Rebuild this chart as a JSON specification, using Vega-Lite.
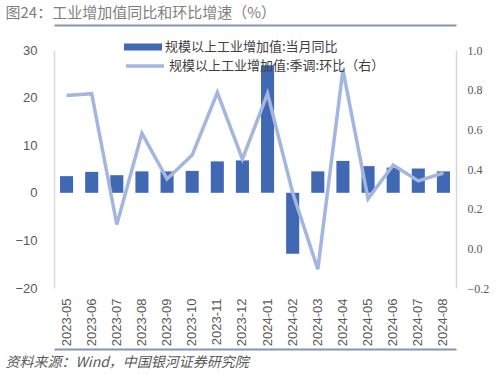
{
  "$schema": "https://vega.github.io/schema/vega-lite/v6.json",
  "width": 402,
  "height": 238,
  "autosize": {"type": "none"},
  "padding": {"left": 54, "top": 50, "right": 44, "bottom": 87},
  "background": "white",
  "config": {
    "view": {"stroke": null},
    "axis": {"grid": false, "ticks": false, "labelColor": "#595959", "domainColor": "#d9d9d9", "domainWidth": 1.5}
  },
  "data": {
    "values": [
      {"m": "2023-05", "yoy": 3.5, "mom": 0.77},
      {"m": "2023-06", "yoy": 4.4, "mom": 0.78},
      {"m": "2023-07", "yoy": 3.7, "mom": 0.12},
      {"m": "2023-08", "yoy": 4.5, "mom": 0.58},
      {"m": "2023-09", "yoy": 4.5, "mom": 0.35},
      {"m": "2023-10", "yoy": 4.6, "mom": 0.47},
      {"m": "2023-11", "yoy": 6.6, "mom": 0.785},
      {"m": "2023-12", "yoy": 6.8, "mom": 0.45},
      {"m": "2024-01", "yoy": 26.8, "mom": 0.78},
      {"m": "2024-02", "yoy": -12.8, "mom": 0.28},
      {"m": "2024-03", "yoy": 4.5, "mom": -0.105},
      {"m": "2024-04", "yoy": 6.7, "mom": 0.9},
      {"m": "2024-05", "yoy": 5.6, "mom": 0.25},
      {"m": "2024-06", "yoy": 5.3, "mom": 0.42},
      {"m": "2024-07", "yoy": 5.1, "mom": 0.34},
      {"m": "2024-08", "yoy": 4.5, "mom": 0.38}
    ]
  },
  "layer": [
    {
      "mark": {"type": "bar"},
      "encoding": {
        "x": {
          "field": "m", "type": "ordinal",
          "scale": {"paddingInner": 0.48, "paddingOuter": 0.24},
          "axis": {
            "orient": "bottom", "offset": 61, "labelAngle": -90, "labelPadding": -51,
            "labelFont": "Liberation Sans", "labelFontSize": 13,
            "domainColor": "#8496b0", "domainWidth": 2,
            "title": "资料来源：Wind，中国银河证券研究院",
            "titleX": -49, "titleY": 13, "titleAlign": "left", "titleBaseline": "middle",
            "titleFont": "Noto Sans CJK SC", "titleFontSize": 14, "titleFontStyle": "italic",
            "titleFontWeight": "normal", "titleColor": "#595959"
          }
        },
        "y": {
          "field": "yoy", "type": "quantitative",
          "scale": {"domain": [-20, 30], "nice": false, "zero": false},
          "axis": {
            "orient": "left", "values": [-20, -10, 0, 10, 20, 30], "title": null,
            "labelPadding": 17, "labelFont": "Liberation Sans", "labelFontSize": 13
          }
        },
        "color": {
          "datum": "规模以上工业增加值:当月同比",
          "scale": {"range": ["#4068b3"]},
          "legend": {
            "orient": "none", "legendX": 70, "legendY": -22, "title": null, "padding": 0,
            "symbolType": "M-1,-0.18L1,-0.18L1,0.18L-1,0.18Z", "symbolSize": 1444,
            "symbolStrokeWidth": 0, "labelOffset": 3, "labelLimit": 400,
            "labelFont": "Noto Sans CJK SC", "labelFontSize": 13, "labelColor": "#404040"
          }
        }
      }
    },
    {
      "mark": {"type": "line", "strokeWidth": 3.5},
      "encoding": {
        "x": {
          "field": "m", "type": "ordinal",
          "axis": {
            "orient": "top", "offset": 25, "labels": false,
            "domainColor": "#8496b0", "domainWidth": 2,
            "title": "图24：工业增加值同比和环比增速（%）",
            "titleX": -49, "titleY": -13, "titleAlign": "left", "titleBaseline": "middle",
            "titleFont": "Noto Sans CJK SC", "titleFontSize": 15,
            "titleFontWeight": "normal", "titleColor": "#7f7f7f"
          }
        },
        "y": {
          "field": "mom", "type": "quantitative",
          "scale": {"domain": [-0.2, 1.0], "nice": false, "zero": false},
          "axis": {
            "orient": "right", "values": [-0.2, 0, 0.2, 0.4, 0.6, 0.8, 1.0], "format": ".1f",
            "title": null, "labelPadding": 11, "labelFont": "Liberation Serif", "labelFontSize": 12
          }
        },
        "color": {
          "datum": "规模以上工业增加值:季调:环比（右）",
          "scale": {"range": ["#a3b6df"]},
          "legend": {
            "orient": "none", "legendX": 70, "legendY": -5, "title": null, "padding": 0,
            "symbolType": "stroke", "symbolSize": 1444, "symbolStrokeWidth": 3.5,
            "labelOffset": 3, "labelLimit": 400,
            "labelFont": "Noto Sans CJK SC", "labelFontSize": 13, "labelColor": "#404040"
          }
        }
      }
    }
  ],
  "resolve": {
    "scale": {"y": "independent", "color": "independent"},
    "axis": {"x": "independent"}
  }
}
